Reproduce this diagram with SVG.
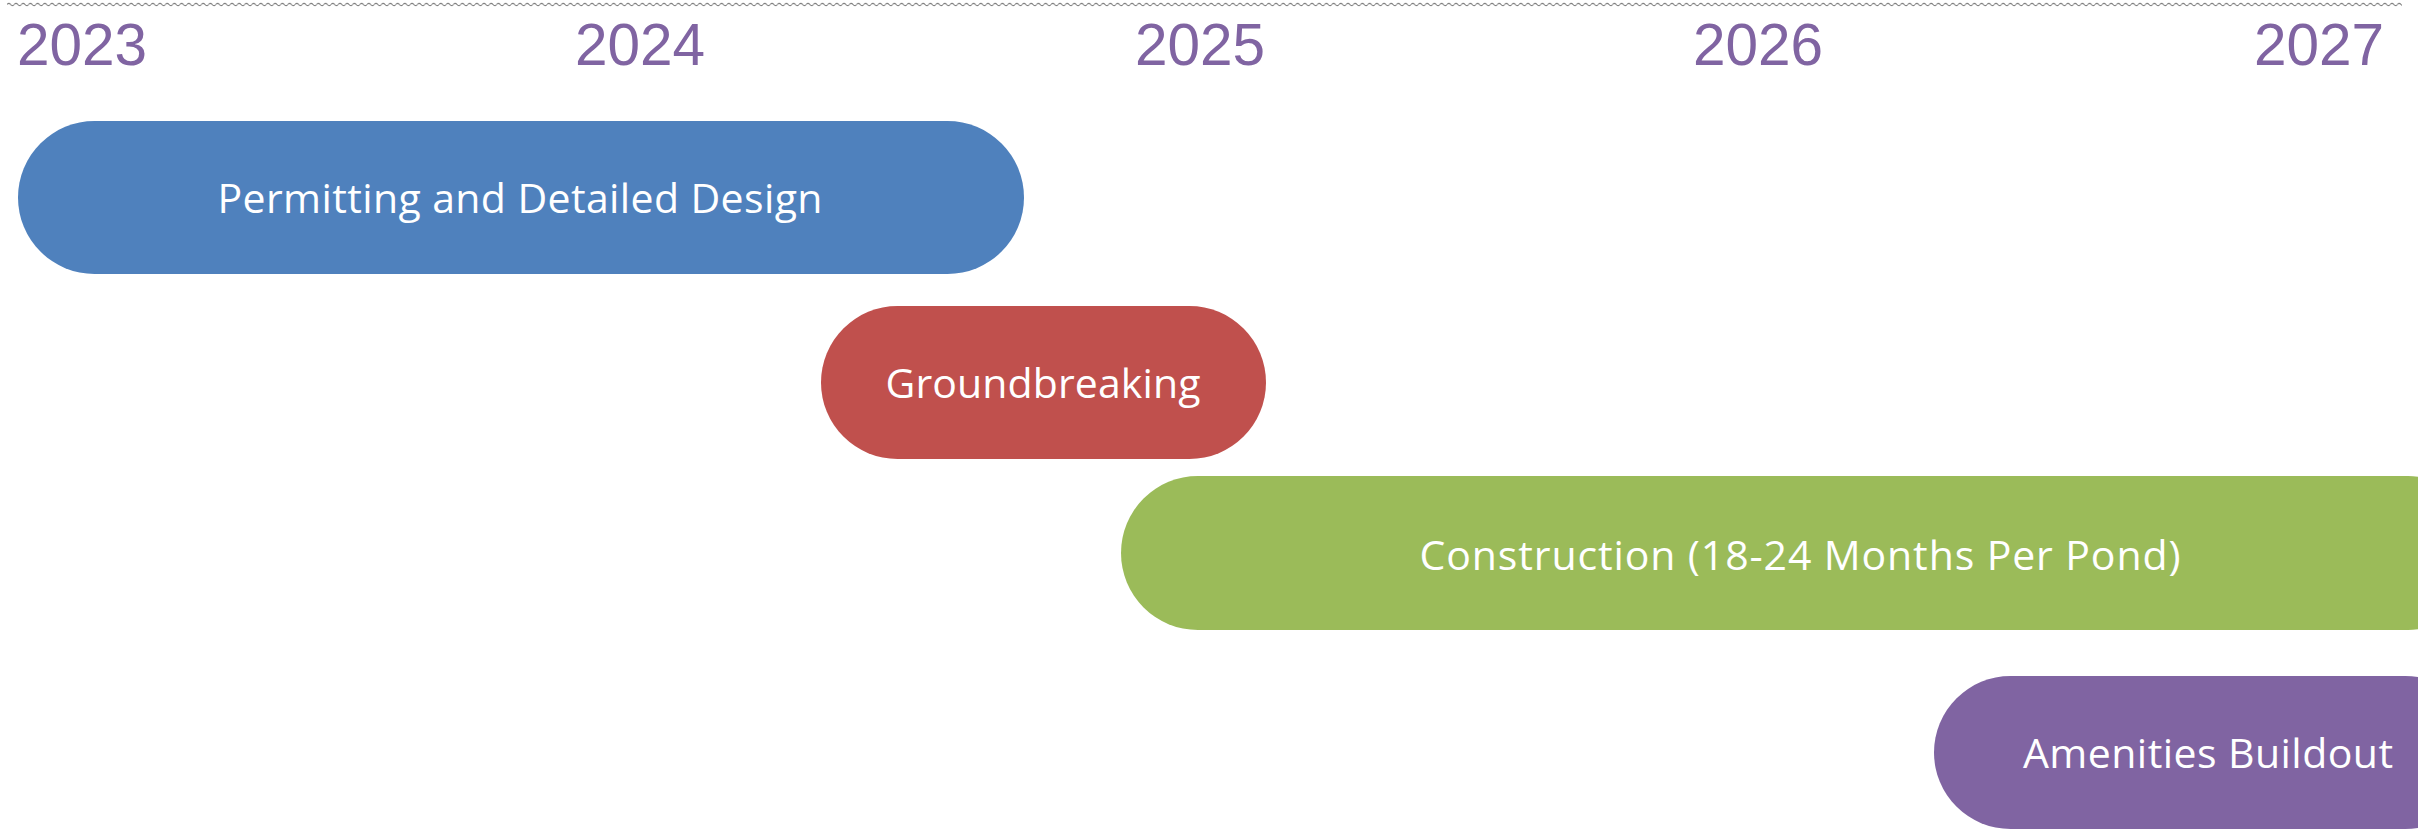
<svg xmlns="http://www.w3.org/2000/svg" width="2418" height="829" viewBox="0 0 2418 829">
<defs>
<pattern id="wave" patternUnits="userSpaceOnUse" x="7" y="1" width="7.2" height="7">
<path d="M0,3.5 Q1.8,1.3 3.6,3.5 T7.2,3.5" fill="none" stroke="#7f7f7f" stroke-width="1.1"/>
</pattern>
</defs>
<style>
.year{font-family:"Liberation Sans",Arial,sans-serif;font-size:58.5px;fill:#8064A2}
.lbl{font-family:"Open Sans","Noto Sans",sans-serif;font-size:41px;fill:#ffffff;text-anchor:middle}
</style>
<rect x="7" y="1" width="2395" height="7" fill="url(#wave)"/>
<g id="years">
<text class="year" x="17" y="65">2023</text>
<text class="year" x="575" y="65">2024</text>
<text class="year" x="1135" y="65">2025</text>
<text class="year" x="1693" y="65">2026</text>
<text class="year" x="2254" y="65">2027</text>
</g>
<g id="connectors"></g>
<g id="permitting">
<rect x="18" y="121" width="1006" height="153" rx="76.5" ry="76.5" fill="#4F81BD"/>
<text class="lbl" x="520" y="213" textLength="605">Permitting and Detailed Design</text>
</g>
<g id="groundbreaking">
<rect x="821" y="306" width="445" height="153" rx="76.5" ry="76.5" fill="#C0504D"/>
<text class="lbl" x="1043" y="398" textLength="315">Groundbreaking</text>
</g>
<g id="construction">
<rect x="1121" y="476" width="1364" height="154" rx="77" ry="77" fill="#9BBB59"/>
<text class="lbl" x="1800" y="570" textLength="761">Construction (18-24 Months Per Pond)</text>
</g>
<g id="amenities">
<rect x="1934" y="676" width="548" height="153" rx="76.5" ry="76.5" fill="#8064A2"/>
<text class="lbl" x="2208" y="768" textLength="370">Amenities Buildout</text>
</g>
</svg>
